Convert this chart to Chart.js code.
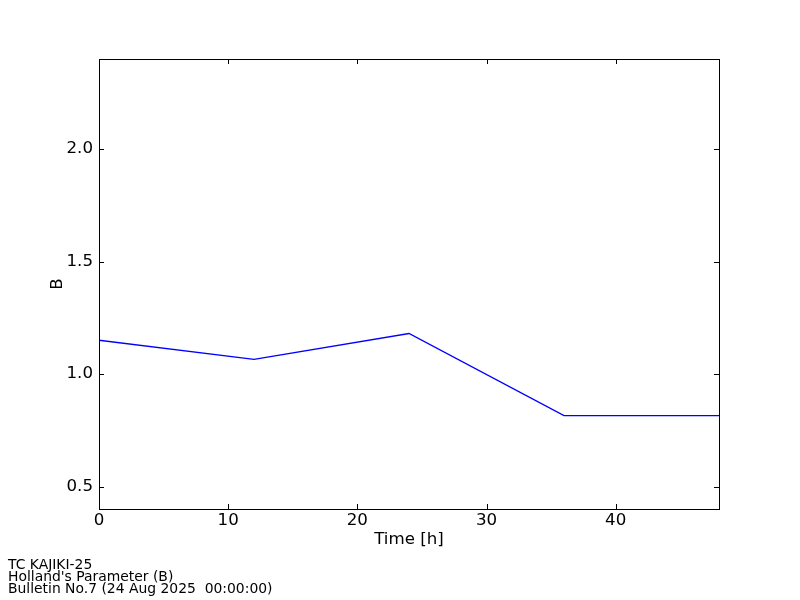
<!DOCTYPE html>
<html>
<head>
<meta charset="utf-8">
<script src="https://cdn.jsdelivr.net/npm/chart.js@4/dist/chart.umd.min.js"></script>
<style>
  html, body { margin: 0; padding: 0; background: #fff; }
  #wrap { width: 800px; height: 600px; }
</style>
</head>
<body>
<div id="wrap"><canvas id="bChart" width="800" height="600"></canvas></div>
<script>
// data
const hours = [0, 12, 24, 36, 48];
const bValues = [1.15, 1.065, 1.18, 0.815, 0.815];
const xTicks = [0, 10, 20, 30, 40];
const yTicks = [0.5, 1.0, 1.5, 2.0];
const footerLines = ['TC KAJIKI-25', "Holland's Parameter (B)", 'Bulletin No.7 (24 Aug 2025  00:00:00)'];

const FONT = 'DejaVu Sans';

// frame + inward ticks on all four sides, footer text
const framePlugin = {
  id: 'frame',
  afterDatasetsDraw(chart) {
    const { ctx, chartArea: a, scales } = chart;
    ctx.save();
    ctx.strokeStyle = '#000';
    ctx.lineWidth = 1;
    const tl = 5;
    ctx.beginPath();
    xTicks.forEach(v => {
      const px = Math.round(scales.x.getPixelForValue(v)) + 0.5;
      ctx.moveTo(px, a.bottom); ctx.lineTo(px, a.bottom - tl);
      ctx.moveTo(px, a.top); ctx.lineTo(px, a.top + tl);
    });
    yTicks.forEach(v => {
      const py = Math.round(scales.y.getPixelForValue(v)) + 0.5;
      ctx.moveTo(a.left, py); ctx.lineTo(a.left + tl, py);
      ctx.moveTo(a.right, py); ctx.lineTo(a.right - tl, py);
    });
    ctx.stroke();
    ctx.strokeRect(Math.round(a.left) + 0.5, Math.round(a.top) + 0.5,
      Math.round(a.right - a.left), Math.round(a.bottom - a.top));

    ctx.fillStyle = '#000';
    ctx.font = '13.9px "' + FONT + '"';
    ctx.textBaseline = 'middle';
    ctx.textAlign = 'left';
    footerLines.forEach((t, i) => ctx.fillText(t, 8, 565.5 + i * 11.8));
    ctx.restore();
  }
};

new Chart(document.getElementById('bChart'), {
  type: 'line',
  data: {
    datasets: [{
      data: hours.map((h, i) => ({ x: h, y: bValues[i] })),
      borderColor: '#0000ff',
      borderWidth: 1.4,
      pointRadius: 0,
      fill: false,
      tension: 0
    }]
  },
  options: {
    responsive: false,
    animation: false,
    layout: { padding: { top: 59, right: 81, left: 0, bottom: 0 } },
    plugins: { legend: { display: false }, tooltip: { enabled: false } },
    scales: {
      x: {
        type: 'linear',
        min: 0,
        max: 48,
        grid: { display: false, drawTicks: false },
        border: { display: false },
        afterBuildTicks: s => { s.ticks = xTicks.map(v => ({ value: v })); },
        afterFit: s => { s.height = 91; },
        ticks: { color: '#000', padding: 2, font: { family: FONT, size: 16.67 }, maxRotation: 0 },
        title: { display: true, text: 'Time [h]', color: '#000', font: { family: FONT, size: 16.67 }, padding: { top: 0, bottom: 50 } }
      },
      y: {
        type: 'linear',
        min: 0.4,
        max: 2.4,
        grid: { display: false, drawTicks: false },
        border: { display: false },
        afterBuildTicks: s => { s.ticks = yTicks.map(v => ({ value: v })); },
        afterFit: s => { s.width = 99; },
        ticks: { color: '#000', padding: 6, font: { family: FONT, size: 16.67 }, callback: v => v.toFixed(1) },
        title: { display: true, text: 'B', color: '#000', font: { family: FONT, size: 16.67 }, padding: { top: 48, bottom: 0 } }
      }
    }
  },
  plugins: [framePlugin]
});
</script>
</body>
</html>
